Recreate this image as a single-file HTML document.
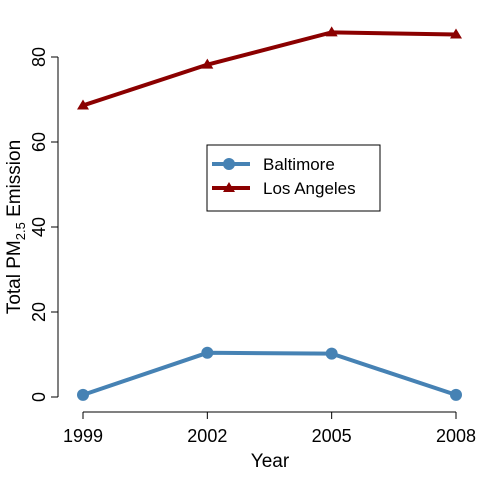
<!DOCTYPE html>
<html><head><meta charset="utf-8"><style>
body{margin:0;background:#fff}
svg{display:block;font-family:"Liberation Sans",sans-serif}
</style></head><body>
<svg id="chart" width="480" height="480" viewBox="0 0 480 480">
<rect width="480" height="480" fill="#fff"/>
<g id="axes"></g>
<g id="series"></g>
<g>
<rect x="207" y="145" width="173" height="66" fill="#fff" stroke="#000" stroke-width="1"/>
<g>
<line x1="212" y1="164" x2="250" y2="164" stroke="#4682b4" stroke-width="4"/>
<circle cx="229" cy="164" r="6" fill="#4682b4"/>
<text x="263" y="170" font-size="17">Baltimore</text></g>
<g>
<line x1="212" y1="188" x2="250" y2="188" stroke="#8b0000" stroke-width="4"/>
<polygon points="229,182 235,192 223,192" fill="#8b0000"/>
<text x="263" y="194" font-size="17">Los Angeles</text></g>
</g>
<text x="270" y="467" font-size="19" text-anchor="middle">Year</text>
<text transform="translate(20,227) rotate(-90)" font-size="19" text-anchor="middle">Total PM<tspan font-size="13" dy="5">2.5</tspan><tspan dy="-5"> Emission</tspan></text>
</svg>
<script>
const years=[1999,2002,2005,2008];
const yTicks=[0,20,40,60,80];
const baltimore=[0.5,10.4,10.2,0.5];
const losAngeles=[68.6,78.2,85.8,85.3];
const NS="http://www.w3.org/2000/svg";
const xS=v=>83+(v-1999)*(456-83)/9;
const yS=v=>397-v*4.25;
function mk(t,a,p){const e=document.createElementNS(NS,t);for(const k in a)e.setAttribute(k,a[k]);p.appendChild(e);return e;}
const ax=document.getElementById('axes'),se=document.getElementById('series');
const xa=mk('line',{x1:xS(1999),x2:xS(2008),y1:412,y2:412,stroke:'#000'},ax);


years.forEach(y=>{mk('line',{x1:xS(y),x2:xS(y),y1:412,y2:419,stroke:'#000'},ax);
const t=mk('text',{x:xS(y),y:442,'font-size':18,'text-anchor':'middle'},ax);t.textContent=y;

});
const ya=mk('line',{x1:58,x2:58,y1:yS(0),y2:yS(80),stroke:'#000'},ax);


yTicks.forEach(v=>{mk('line',{x1:51,x2:58,y1:yS(v),y2:yS(v),stroke:'#000'},ax);
const t=mk('text',{transform:`translate(45,${yS(v)}) rotate(-90)`,'font-size':18,'text-anchor':'middle'},ax);t.textContent=v;

});
function series(vals,col,name,tri){
const g=mk('g',{},se);


mk('polyline',{points:vals.map((v,i)=>xS(years[i])+','+yS(v)).join(' '),fill:'none',stroke:col,'stroke-width':4},g);
vals.forEach((v,i)=>{const x=xS(years[i]),y=yS(v);let m;
if(tri)m=mk('polygon',{points:`${x},${y-6} ${x+6},${y+4} ${x-6},${y+4}`,fill:col},g);
else m=mk('circle',{cx:x,cy:y,r:6,fill:col},g);

});}
series(baltimore,'#4682b4','series-baltimore',false);
series(losAngeles,'#8b0000','series-los-angeles',true);
</script>
</body></html>
